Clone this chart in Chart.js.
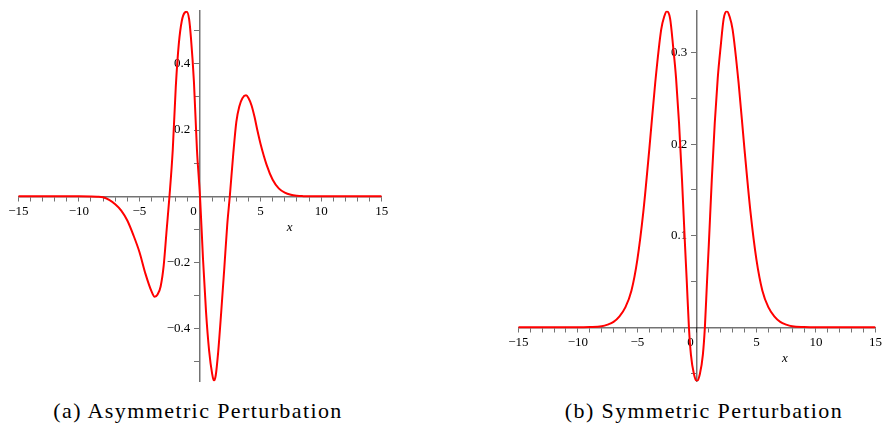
<!DOCTYPE html>
<html lang="en">
<head>
  <meta charset="UTF-8">
  <title>Asymmetric and Symmetric Perturbation</title>
  <script src="https://cdn.jsdelivr.net/npm/chart.js"></script>
  <style>
    body {
      margin: 0;
      background: #fff;
      width: 885px;
      height: 434px;
      position: relative;
      overflow: hidden;
    }
    canvas {
      position: absolute;
      top: 0;
    }
    #chartA { left: 0; }
    #chartB { left: 500px; }
    .caption {
      position: absolute;
      top: 398px;
      font-family: "Liberation Serif", "DejaVu Serif", serif;
      font-size: 22px;
      letter-spacing: 1.4px;
      color: #000;
      white-space: nowrap;
      transform: translateX(-50%);
    }
  </style>
</head>
<body>

  <canvas id="chartA" width="400" height="392"></canvas>
  <canvas id="chartB" width="385" height="392"></canvas>
  <div class="caption" style="left:198px;">(a) Asymmetric Perturbation</div>
  <div class="caption" style="left:704px;">(b) Symmetric Perturbation</div>

  <script>
    // (a) asymmetric perturbation
    const asymX = [-15, -12, -10, -9, -8.5, -8, -7.5, -7, -6.5, -6, -5.5, -5, -4.5, -4, -3.75, -3.5, -3.25, -3, -2.75, -2.52,
      -2.25, -2, -1.75, -1.5, -1.25, -1.1, -0.9, -0.75, -0.5, -0.25, 0,
      0.25, 0.5, 0.75, 1, 1.15, 1.3, 1.5, 1.75, 2, 2.25, 2.46, 2.75, 3, 3.25, 3.5, 3.8, 4, 4.25, 4.5, 4.75, 5,
      5.5, 6, 6.5, 7, 7.5, 8, 8.5, 9, 10, 12, 15];
    const asymY = [0, 0, 0, -0.0003, -0.001, -0.003, -0.011, -0.024, -0.043, -0.073, -0.117, -0.168, -0.234, -0.287, -0.303, -0.296, -0.272, -0.21, -0.1, 0,
      0.14, 0.33, 0.46, 0.53, 0.555, 0.557, 0.535, 0.48, 0.345, 0.14, 0,
      -0.19, -0.35, -0.465, -0.535, -0.557, -0.54, -0.47, -0.35, -0.22, -0.085, 0, 0.13, 0.225, 0.272, 0.296, 0.305, 0.297, 0.275, 0.24, 0.197, 0.158,
      0.095, 0.05, 0.024, 0.011, 0.0045, 0.0017, 0.0006, 0.0002, 0, 0, 0];

    // (b) symmetric perturbation
    const symX = [-15, -12, -10, -9, -8, -7.5, -7, -6.5, -6, -5.5, -5, -4.5, -4, -3.5, -3, -2.75, -2.52, -2.25, -2, -1.75, -1.5, -1.25, -1, -0.85, -0.67, -0.5, -0.25, 0,
      0.25, 0.5, 0.67, 0.85, 1, 1.25, 1.5, 1.75, 2, 2.25, 2.52, 2.75, 3, 3.5, 4, 4.5, 5, 5.5, 6, 6.5, 7, 7.5, 8, 9, 10, 12, 15];
    const symY = [0, 0, 0, 0.0003, 0.0012, 0.003, 0.006, 0.012, 0.022, 0.04, 0.074, 0.126, 0.194, 0.267, 0.325, 0.339, 0.345, 0.337, 0.307, 0.272, 0.223, 0.161, 0.09, 0.05, 0, -0.03, -0.051, -0.0588,
      -0.051, -0.03, 0, 0.05, 0.09, 0.161, 0.223, 0.272, 0.307, 0.337, 0.345, 0.339, 0.325, 0.267, 0.194, 0.126, 0.074, 0.04, 0.022, 0.012, 0.006, 0.003, 0.0012, 0.0003, 0, 0, 0];

    // tick labels
    const xLabelValues = [-15, -10, -5, 0, 5, 10, 15];
    const xLabelTexts = ['\u221215', '\u221210', '\u22125', '0    ', '5', '10', '15'];
    const asymYLabelValues = [-0.4, -0.2, 0.2, 0.4];
    const asymYLabelTexts = ['\u22120.4', '\u22120.2', '0.2', '0.4'];
    const symYLabelValues = [0.1, 0.2, 0.3];
    const symYLabelTexts = ['0.1', '0.2', '0.3'];

    const axisColor = 'rgba(0,0,0,0.55)';
    const serif = '"Liberation Serif", "DejaVu Serif", serif';
    const tickFont = { family: serif, size: 13 };

    function labelFor(values, texts, v, suffix) {
      const i = values.findIndex(t => Math.abs(t - v) < 1e-6);
      return i === -1 ? '' : texts[i] + suffix;
    }

    const axisName = {
      id: 'axisName',
      afterDraw(chart) {
        const { ctx, scales: { x, y } } = chart;
        ctx.save();
        ctx.font = 'italic 13px ' + serif;
        ctx.fillStyle = '#000';
        ctx.textAlign = 'center';
        ctx.textBaseline = 'middle';
        ctx.fillText('x', x.getPixelForValue(7.4), y.getPixelForValue(0) + 31);
        ctx.restore();
      }
    };

    function makeChart(id, xs, ys, yMin, yMax, yStep, yVals, yTexts, padRight) {
      return new Chart(document.getElementById(id), {
        type: 'line',
        data: {
          datasets: [{
            data: xs.map((x, i) => ({ x: x, y: ys[i] })),
            borderColor: '#ff0000',
            borderWidth: 2,
            pointRadius: 0,
            fill: false,
            cubicInterpolationMode: 'monotone'
          }]
        },
        options: {
          responsive: false,
          animation: false,
          devicePixelRatio: 1,
          layout: { padding: { left: 18.3, right: padRight, top: 3.3, bottom: 10.3 } },
          plugins: { legend: { display: false }, tooltip: { enabled: false } },
          scales: {
            x: {
              type: 'linear',
              min: -15,
              max: 15,
              position: { y: 0 },
              z: 1,
              ticks: {
                stepSize: 1,
                autoSkip: false,
                maxRotation: 0,
                includeBounds: false,
                padding: 3,
                color: '#000',
                font: tickFont,
                callback: v => labelFor(xLabelValues, xLabelTexts, v, '')
              },
              grid: { drawOnChartArea: false, drawTicks: true, tickLength: 4, color: axisColor, lineWidth: 1 },
              border: { display: true, color: axisColor, width: 1.5 }
            },
            y: {
              type: 'linear',
              min: yMin,
              max: yMax,
              position: { x: 0 },
              z: 1,
              ticks: {
                stepSize: yStep,
                autoSkip: false,
                includeBounds: false,
                color: '#000',
                font: tickFont,
                callback: v => Math.abs(v) < 1e-6 ? null : labelFor(yVals, yTexts, v, '   ')
              },
              grid: { drawOnChartArea: false, drawTicks: true, tickLength: 5, color: axisColor, lineWidth: 1 },
              border: { display: true, color: axisColor, width: 1.5 }
            }
          }
        },
        plugins: [axisName]
      });
    }

    makeChart('chartA', asymX, asymY, -0.558, 0.56, 0.1, asymYLabelValues, asymYLabelTexts, 18.3);
    makeChart('chartB', symX, symY, -0.0588, 0.3455, 0.05, symYLabelValues, symYLabelTexts, 3.3);
  </script>

</body>
</html>
